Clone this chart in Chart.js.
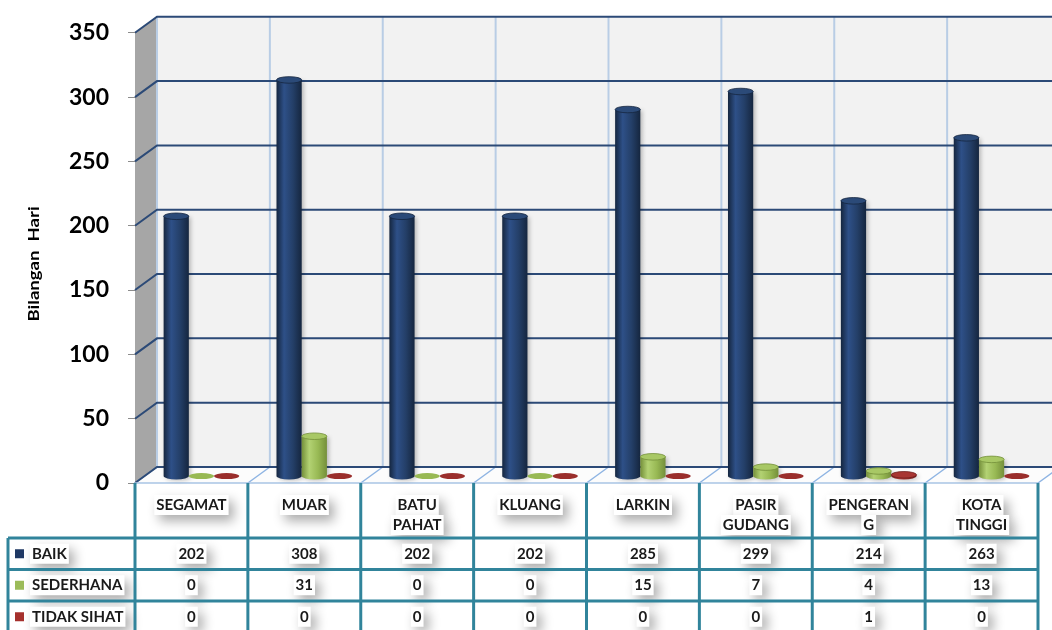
<!DOCTYPE html>
<html><head><meta charset="utf-8">
<script src="https://cdn.jsdelivr.net/npm/chart.js@4.4.1/dist/chart.umd.min.js"></script>
<style>html,body{margin:0;padding:0;background:#fff;overflow:hidden}#wrap{width:1052px;height:630px}</style>
</head><body><div id="wrap"><canvas id="c" width="1052" height="630"></canvas></div>
<script>
const categories = ['SEGAMAT','MUAR','BATU PAHAT','KLUANG','LARKIN','PASIR GUDANG','PENGERANG','KOTA TINGGI'];
const seriesNames = ['BAIK','SEDERHANA','TIDAK SIHAT'];
const baik = [202,308,202,202,285,299,214,263];
const sederhana = [0,31,0,0,15,7,4,13];
const tidakSihat = [0,0,0,0,0,0,1,0];
const yTicks = [0,50,100,150,200,250,300,350];
const yTitle = 'Bilangan  Hari';

const DX = 22, DY = 16;           // 3D depth of the walls
const BDX = 10, BDY = 7;          // depth position of the bars
const palettes = [
  {main:'#243F68', light:'#2E5088', dark:'#15263F', cap:'#2B4A78', sw:'#1F3864'},
  {main:'#98B954', light:'#B3D273', dark:'#748F3A', cap:'#A8C865', sw:'#9BBB59'},
  {main:'#9A2E2C', light:'#B23A37', dark:'#6E1E1D', cap:'#A83532', sw:'#A5302C'}
];
const FONT = 'Lato, "Open Sans", sans-serif';

function cylinder(ctx, x, top, base, w, pal){
  const rx = w/2, ry = Math.max(3, w*0.13);
  const l = x - rx, r = x + rx;
  ctx.save();
  if (base - top > 0.5) {
    ctx.shadowColor = 'rgba(0,0,0,0.25)'; ctx.shadowBlur = 4; ctx.shadowOffsetX = 2; ctx.shadowOffsetY = 1;
    const g = ctx.createLinearGradient(l,0,r,0);
    g.addColorStop(0, pal.dark); g.addColorStop(0.3, pal.light); g.addColorStop(0.65, pal.main); g.addColorStop(1, pal.dark);
    ctx.fillStyle = g;
    ctx.beginPath();
    ctx.moveTo(l, top);
    ctx.lineTo(l, base);
    ctx.ellipse(x, base, rx, ry, 0, Math.PI, 0, true);
    ctx.lineTo(r, top);
    ctx.closePath();
    ctx.fill();
    ctx.shadowColor = 'transparent';
    ctx.fillStyle = pal.cap;
    ctx.beginPath(); ctx.ellipse(x, top, rx, ry, 0, 0, 2*Math.PI); ctx.fill();
    ctx.strokeStyle = pal.dark; ctx.lineWidth = 0.8; ctx.stroke();
  } else {
    ctx.fillStyle = pal.main;
    ctx.beginPath(); ctx.ellipse(x, base, rx, 3, 0, 0, 2*Math.PI); ctx.fill();
  }
  ctx.restore();
}

function wrapLabel(ctx, text, maxW){
  const out = [];
  for (const word of text.split(' ')) {
    let cur = '';
    for (const ch of word) {
      if (ctx.measureText(cur + ch).width > maxW && cur) { out.push(cur); cur = ch; }
      else cur += ch;
    }
    out.push(cur);
  }
  return out;
}

function shadowText(ctx, text, x, y, align){
  const w = ctx.measureText(text).width;
  const bx = align === 'left' ? x - 2 : x - w/2 - 2;
  ctx.save();
  ctx.shadowColor = 'rgba(0,0,0,0.33)'; ctx.shadowBlur = 12; ctx.shadowOffsetX = 5; ctx.shadowOffsetY = 6;
  ctx.fillStyle = '#fff';
  ctx.fillRect(bx, y - 10, w + 4, 20);
  ctx.restore();
  ctx.fillStyle = '#1a1a1a';
  ctx.textAlign = align; ctx.textBaseline = 'middle';
  ctx.fillText(text, x, y);
}

const wallsPlugin = {
  id: 'walls',
  beforeDraw(chart){
    const {ctx, chartArea: ca, width: W} = chart;
    const ys = chart.scales.y;
    const L = ca.left, R = ca.right, B = ca.bottom, T = ca.top;
    const cw = (R - L) / categories.length;
    ctx.save();
    ctx.fillStyle = '#fff'; ctx.fillRect(0, 0, W, chart.height);
    ctx.fillStyle = '#F2F2F2'; ctx.fillRect(L + DX, T - DY, W - L - DX, B - T);
    ctx.fillStyle = '#A6A6A6';
    ctx.beginPath(); ctx.moveTo(L, T); ctx.lineTo(L + DX, T - DY); ctx.lineTo(L + DX, B - DY); ctx.lineTo(L, B); ctx.closePath(); ctx.fill();
    ctx.fillStyle = '#FCFCFC';
    ctx.beginPath(); ctx.moveTo(L, B); ctx.lineTo(L + DX, B - DY); ctx.lineTo(R + DX, B - DY); ctx.lineTo(R, B); ctx.closePath(); ctx.fill();
    ctx.strokeStyle = '#B9CDE5'; ctx.lineWidth = 2;
    for (let i = 0; i <= categories.length; i++) {
      const bx = L + i * cw + DX;
      ctx.beginPath(); ctx.moveTo(bx, T - DY); ctx.lineTo(bx, B - DY); ctx.stroke();
    }
    ctx.strokeStyle = '#8EB4E3'; ctx.lineWidth = 1.5;
    for (let i = 0; i <= categories.length; i++) {
      const bx = L + i * cw;
      ctx.beginPath(); ctx.moveTo(bx, B); ctx.lineTo(bx + DX, B - DY); ctx.stroke();
    }
    ctx.strokeStyle = '#2C4A77'; ctx.lineWidth = 2;
    for (const v of yTicks) {
      const yf = ys.getPixelForValue(v);
      ctx.beginPath(); ctx.moveTo(L, yf); ctx.lineTo(L + DX, yf - DY); ctx.lineTo(W, yf - DY); ctx.stroke();
    }
    ctx.strokeStyle = '#A9C4E4'; ctx.lineWidth = 1.5;
    ctx.beginPath(); ctx.moveTo(L, B); ctx.lineTo(R, B); ctx.stroke();
    ctx.restore();
  },
  afterDatasetsDraw(chart){
    const ctx = chart.ctx;
    chart.data.datasets.forEach((ds, di) => {
      const meta = chart.getDatasetMeta(di);
      meta.data.forEach(el => {
        const p = el.getProps(['x','y','base','width'], true);
        cylinder(ctx, p.x + BDX, p.y, p.base, p.width, palettes[di]);
      });
    });
  },
  afterDraw(chart){
    const {ctx, chartArea: ca} = chart;
    const xs = chart.scales.x;
    const cw = (ca.right - ca.left) / categories.length;
    const top = ca.bottom, hdrH = 55, rowH = 31.5, legL = 8;
    const rowsTop = top + hdrH;
    ctx.save();
    ctx.save();
    ctx.translate(38.5, (ca.top + ca.bottom) / 2 + 6);
    ctx.rotate(-Math.PI / 2);
    ctx.scale(1.28, 1);
    ctx.font = 'bold 14.5px ' + FONT;
    ctx.fillStyle = '#000'; ctx.textAlign = 'center'; ctx.textBaseline = 'alphabetic';
    ctx.fillText(yTitle, 0, 0);
    ctx.restore();

    ctx.font = 'bold 15px ' + FONT;
    categories.forEach((c, i) => {
      const cx = xs.getPixelForValue(i);
      const lines = wrapLabel(ctx, c, 84);
      lines.forEach((ln, k) => shadowText(ctx, ln, cx, top + 22 + k * 20, 'center'));
    });
    const rows = [baik, sederhana, tidakSihat];
    rows.forEach((vals, r) => {
      const cy = rowsTop + r * rowH + rowH / 2;
      ctx.fillStyle = palettes[r].sw;
      ctx.fillRect(legL + 7, cy - 4.5, 9, 9);
      shadowText(ctx, seriesNames[r], legL + 24, cy, 'left');
      vals.forEach((v, i) => shadowText(ctx, String(v), xs.getPixelForValue(i), cy, 'center'));
    });
    ctx.strokeStyle = '#31849B'; ctx.lineWidth = 3;
    for (let i = 0; i <= categories.length; i++) {
      const bx = ca.left + i * cw;
      ctx.beginPath(); ctx.moveTo(bx, top); ctx.lineTo(bx, chart.height); ctx.stroke();
    }
    ctx.beginPath(); ctx.moveTo(legL, rowsTop); ctx.lineTo(legL, chart.height); ctx.stroke();
    for (let r = 0; r < 3; r++) {
      const y = rowsTop + r * rowH;
      ctx.beginPath(); ctx.moveTo(legL, y); ctx.lineTo(ca.right, y); ctx.stroke();
    }
    ctx.restore();
  }
};

new Chart(document.getElementById('c').getContext('2d'), {
  type: 'bar',
  data: {
    labels: categories,
    datasets: [baik, sederhana, tidakSihat].map((d, i) => ({
      label: seriesNames[i], data: d, yAxisID: 'yb',
      backgroundColor: 'rgba(0,0,0,0)', borderWidth: 0,
      categoryPercentage: 0.67, barPercentage: 1
    }))
  },
  options: {
    responsive: false, animation: false, events: [],
    layout: {padding: {left: 28, right: 14, top: 26, bottom: 147}},
    plugins: {legend: {display: false}, tooltip: {enabled: false}},
    scales: {
      x: {display: false},
      y: {
        position: 'left', min: 0, max: 350,
        afterBuildTicks(s){ s.ticks = yTicks.map(v => ({value: v})); },
        afterFit(s){ s.width = 107; },
        ticks: {padding: 19, color: '#000', font: {family: FONT, weight: 'bold', size: 23}},
        grid: {drawOnChartArea: false, tickLength: 7, color: '#8C8C8C', lineWidth: 1},
        border: {display: false},
        title: {display: false, text: yTitle}
      },
      yb: {display: false, min: -BDY / 1.3057, max: 350 - BDY / 1.3057}
    }
  },
  plugins: [wallsPlugin]
});
</script></body></html>
